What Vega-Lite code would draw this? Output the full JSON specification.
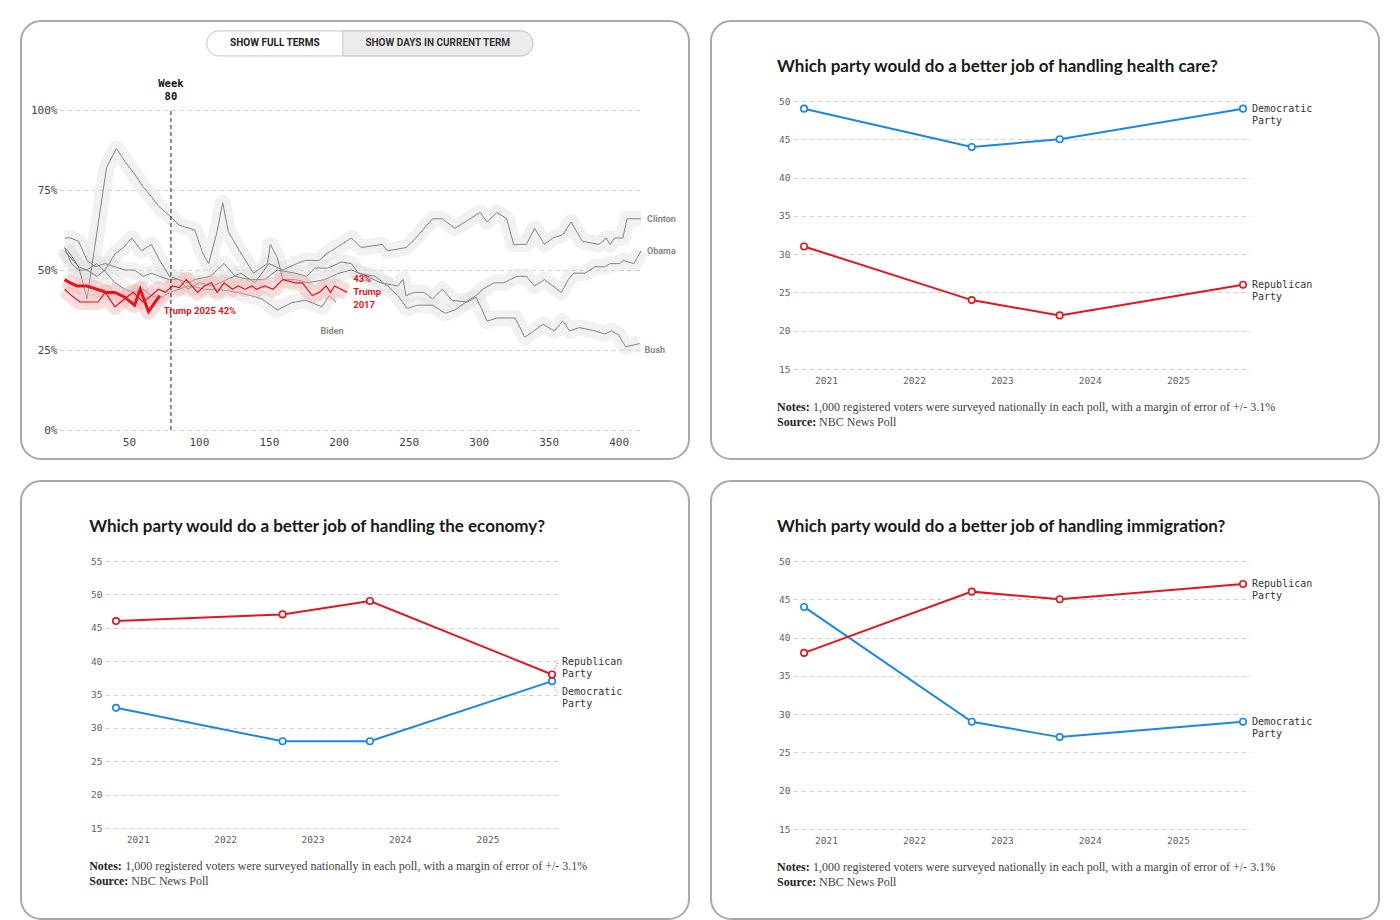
{
  "$schema": "https://vega.github.io/schema/vega-lite/v6.json",
  "background": "white",
  "padding": {"left": 20, "top": 20, "right": 0, "bottom": 0},
  "spacing": 20,
  "config": {
    "view": {"stroke": "#a8a8a8", "strokeWidth": 2, "cornerRadius": 20, "fill": "white"},
    "concat": {"spacing": 20},
    "axis": {"domain": false, "ticks": false, "tickSize": 0, "labelPadding": 0, "labelFont": "DejaVu Sans Mono", "labelColor": "#5e5e5e", "gridColor": "#cccccc", "gridDash": [4, 4], "gridWidth": 1}
  },
  "datasets": {
    "approval": [
      {"president":"Bush","week":4,"approval":57},{"president":"Bush","week":8,"approval":55},{"president":"Bush","week":14,"approval":51},{"president":"Bush","week":20,"approval":41},{"president":"Bush","week":34,"approval":82},{"president":"Bush","week":41,"approval":88},{"president":"Bush","week":47,"approval":84},{"president":"Bush","week":54,"approval":80},{"president":"Bush","week":60,"approval":76},{"president":"Bush","week":66,"approval":73},{"president":"Bush","week":71,"approval":70},{"president":"Bush","week":79,"approval":67},{"president":"Bush","week":86,"approval":64},{"president":"Bush","week":97,"approval":62.5},{"president":"Bush","week":103,"approval":55},{"president":"Bush","week":107,"approval":52},{"president":"Bush","week":113,"approval":62},{"president":"Bush","week":117,"approval":71},{"president":"Bush","week":121,"approval":62},{"president":"Bush","week":129,"approval":56},{"president":"Bush","week":139,"approval":49},{"president":"Bush","week":149,"approval":52},{"president":"Bush","week":151,"approval":58},{"president":"Bush","week":156,"approval":54},{"president":"Bush","week":160,"approval":47},{"president":"Bush","week":169,"approval":47},{"president":"Bush","week":178,"approval":46},{"president":"Bush","week":190,"approval":47},{"president":"Bush","week":200,"approval":49},{"president":"Bush","week":209,"approval":50},{"president":"Bush","week":220,"approval":48},{"president":"Bush","week":230,"approval":46},{"president":"Bush","week":242,"approval":45},{"president":"Bush","week":246,"approval":47},{"president":"Bush","week":248,"approval":42},{"president":"Bush","week":254,"approval":43},{"president":"Bush","week":261,"approval":43},{"president":"Bush","week":267,"approval":41},{"president":"Bush","week":274,"approval":44},{"president":"Bush","week":281,"approval":40.5},{"president":"Bush","week":292,"approval":40},{"president":"Bush","week":298,"approval":41.5},{"president":"Bush","week":302,"approval":38},{"president":"Bush","week":306,"approval":34},{"president":"Bush","week":313,"approval":35},{"president":"Bush","week":326,"approval":35},{"president":"Bush","week":333,"approval":29},{"president":"Bush","week":346,"approval":33},{"president":"Bush","week":354,"approval":31},{"president":"Bush","week":360,"approval":34},{"president":"Bush","week":365,"approval":31},{"president":"Bush","week":372,"approval":32},{"president":"Bush","week":383,"approval":31},{"president":"Bush","week":390,"approval":30},{"president":"Bush","week":395,"approval":31},{"president":"Bush","week":400,"approval":29.7},{"president":"Bush","week":405,"approval":26},{"president":"Bush","week":415,"approval":27},
      {"president":"Clinton","week":4,"approval":57},{"president":"Clinton","week":9,"approval":52},{"president":"Clinton","week":14,"approval":50},{"president":"Clinton","week":20,"approval":50},{"president":"Clinton","week":27,"approval":48},{"president":"Clinton","week":33,"approval":50},{"president":"Clinton","week":40,"approval":55},{"president":"Clinton","week":46,"approval":57},{"president":"Clinton","week":52,"approval":60},{"president":"Clinton","week":59,"approval":56},{"president":"Clinton","week":66,"approval":58},{"president":"Clinton","week":72,"approval":53},{"president":"Clinton","week":79,"approval":48},{"president":"Clinton","week":86,"approval":47},{"president":"Clinton","week":92,"approval":44},{"president":"Clinton","week":100,"approval":46},{"president":"Clinton","week":110,"approval":45},{"president":"Clinton","week":120,"approval":47},{"president":"Clinton","week":130,"approval":49},{"president":"Clinton","week":140,"approval":46},{"president":"Clinton","week":150,"approval":52},{"president":"Clinton","week":160,"approval":50},{"president":"Clinton","week":170,"approval":52},{"president":"Clinton","week":176,"approval":53},{"president":"Clinton","week":186,"approval":53},{"president":"Clinton","week":191,"approval":55},{"president":"Clinton","week":202,"approval":58},{"president":"Clinton","week":209,"approval":60},{"president":"Clinton","week":216,"approval":57},{"president":"Clinton","week":231,"approval":58},{"president":"Clinton","week":235,"approval":56},{"president":"Clinton","week":248,"approval":57},{"president":"Clinton","week":255,"approval":60},{"president":"Clinton","week":267,"approval":66},{"president":"Clinton","week":274,"approval":66},{"president":"Clinton","week":283,"approval":63},{"president":"Clinton","week":301,"approval":68},{"president":"Clinton","week":306,"approval":65},{"president":"Clinton","week":313,"approval":68},{"president":"Clinton","week":320,"approval":66},{"president":"Clinton","week":325,"approval":58},{"president":"Clinton","week":334,"approval":58},{"president":"Clinton","week":340,"approval":63},{"president":"Clinton","week":347,"approval":58},{"president":"Clinton","week":353,"approval":60},{"president":"Clinton","week":360,"approval":61},{"president":"Clinton","week":366,"approval":65},{"president":"Clinton","week":374,"approval":59},{"president":"Clinton","week":386,"approval":58},{"president":"Clinton","week":391,"approval":60},{"president":"Clinton","week":394,"approval":58},{"president":"Clinton","week":397,"approval":60},{"president":"Clinton","week":403,"approval":60},{"president":"Clinton","week":406,"approval":66},{"president":"Clinton","week":416,"approval":66},
      {"president":"Obama","week":4,"approval":60},{"president":"Obama","week":8,"approval":60},{"president":"Obama","week":14,"approval":59},{"president":"Obama","week":20,"approval":53},{"president":"Obama","week":26,"approval":51},{"president":"Obama","week":33,"approval":52},{"president":"Obama","week":40,"approval":51},{"president":"Obama","week":47,"approval":50},{"president":"Obama","week":54,"approval":50},{"president":"Obama","week":60,"approval":48},{"president":"Obama","week":66,"approval":49},{"president":"Obama","week":72,"approval":48},{"president":"Obama","week":79,"approval":47},{"president":"Obama","week":86,"approval":47},{"president":"Obama","week":92,"approval":46},{"president":"Obama","week":97,"approval":47},{"president":"Obama","week":108,"approval":48},{"president":"Obama","week":118,"approval":52},{"president":"Obama","week":126,"approval":48},{"president":"Obama","week":136,"approval":47},{"president":"Obama","week":147,"approval":47},{"president":"Obama","week":156,"approval":50},{"president":"Obama","week":169,"approval":49},{"president":"Obama","week":177,"approval":48},{"president":"Obama","week":183,"approval":50.6},{"president":"Obama","week":192,"approval":50.6},{"president":"Obama","week":202,"approval":52.5},{"president":"Obama","week":209,"approval":52},{"president":"Obama","week":214,"approval":49},{"president":"Obama","week":226,"approval":48},{"president":"Obama","week":235,"approval":45},{"president":"Obama","week":242,"approval":42},{"president":"Obama","week":249,"approval":38},{"president":"Obama","week":256,"approval":39},{"president":"Obama","week":267,"approval":39},{"president":"Obama","week":276,"approval":36.5},{"president":"Obama","week":283,"approval":37.5},{"president":"Obama","week":290,"approval":39.7},{"president":"Obama","week":298,"approval":42},{"president":"Obama","week":303,"approval":44},{"president":"Obama","week":311,"approval":46},{"president":"Obama","week":318,"approval":46},{"president":"Obama","week":327,"approval":48},{"president":"Obama","week":334,"approval":48},{"president":"Obama","week":340,"approval":45},{"president":"Obama","week":347,"approval":47},{"president":"Obama","week":359,"approval":43},{"president":"Obama","week":364,"approval":47},{"president":"Obama","week":368,"approval":49},{"president":"Obama","week":376,"approval":49},{"president":"Obama","week":383,"approval":51},{"president":"Obama","week":390,"approval":51},{"president":"Obama","week":394,"approval":52},{"president":"Obama","week":401,"approval":52},{"president":"Obama","week":403,"approval":53},{"president":"Obama","week":411,"approval":52},{"president":"Obama","week":416,"approval":56},
      {"president":"Biden","week":4,"approval":56},{"president":"Biden","week":8,"approval":54},{"president":"Biden","week":14,"approval":51},{"president":"Biden","week":20,"approval":50},{"president":"Biden","week":27,"approval":52},{"president":"Biden","week":34,"approval":49},{"president":"Biden","week":40,"approval":46},{"president":"Biden","week":47,"approval":44},{"president":"Biden","week":54,"approval":43},{"president":"Biden","week":60,"approval":44},{"president":"Biden","week":66,"approval":42},{"president":"Biden","week":72,"approval":41},{"president":"Biden","week":79,"approval":43},{"president":"Biden","week":86,"approval":44},{"president":"Biden","week":92,"approval":45},{"president":"Biden","week":97,"approval":44.7},{"president":"Biden","week":104,"approval":44},{"president":"Biden","week":116,"approval":43.8},{"president":"Biden","week":128,"approval":43},{"president":"Biden","week":137,"approval":42},{"president":"Biden","week":145,"approval":41},{"president":"Biden","week":156,"approval":37.5},{"president":"Biden","week":166,"approval":39.7},{"president":"Biden","week":176,"approval":40.6},{"president":"Biden","week":188,"approval":38.5},{"president":"Biden","week":193,"approval":42},{"president":"Biden","week":198,"approval":40},
      {"president":"Trump 2017","week":4,"approval":44},{"president":"Trump 2017","week":9,"approval":42},{"president":"Trump 2017","week":15,"approval":40},{"president":"Trump 2017","week":21,"approval":40},{"president":"Trump 2017","week":28,"approval":40},{"president":"Trump 2017","week":33,"approval":43},{"president":"Trump 2017","week":40,"approval":38.5},{"president":"Trump 2017","week":47,"approval":41},{"president":"Trump 2017","week":53,"approval":43},{"president":"Trump 2017","week":60,"approval":40},{"president":"Trump 2017","week":66,"approval":42},{"president":"Trump 2017","week":71,"approval":44},{"president":"Trump 2017","week":76,"approval":43},{"president":"Trump 2017","week":81,"approval":45},{"president":"Trump 2017","week":86,"approval":44.5},{"president":"Trump 2017","week":91,"approval":47},{"president":"Trump 2017","week":99,"approval":43},{"president":"Trump 2017","week":104,"approval":45},{"president":"Trump 2017","week":109,"approval":46},{"president":"Trump 2017","week":113,"approval":43},{"president":"Trump 2017","week":118,"approval":46},{"president":"Trump 2017","week":124,"approval":44},{"president":"Trump 2017","week":128,"approval":45},{"president":"Trump 2017","week":133,"approval":44},{"president":"Trump 2017","week":138,"approval":45},{"president":"Trump 2017","week":141,"approval":44},{"president":"Trump 2017","week":147,"approval":45},{"president":"Trump 2017","week":153,"approval":44},{"president":"Trump 2017","week":160,"approval":47},{"president":"Trump 2017","week":169,"approval":46},{"president":"Trump 2017","week":174,"approval":46},{"president":"Trump 2017","week":181,"approval":42},{"president":"Trump 2017","week":186,"approval":43},{"president":"Trump 2017","week":191,"approval":45},{"president":"Trump 2017","week":194,"approval":43},{"president":"Trump 2017","week":197,"approval":45},{"president":"Trump 2017","week":206,"approval":43},
      {"president":"Trump 2025","week":4,"approval":47},{"president":"Trump 2025","week":8,"approval":46},{"president":"Trump 2025","week":13,"approval":45},{"president":"Trump 2025","week":20,"approval":45},{"president":"Trump 2025","week":27,"approval":44},{"president":"Trump 2025","week":34,"approval":43},{"president":"Trump 2025","week":40,"approval":43},{"president":"Trump 2025","week":47,"approval":41.5},{"president":"Trump 2025","week":54,"approval":39},{"president":"Trump 2025","week":58,"approval":44},{"president":"Trump 2025","week":64,"approval":37},{"president":"Trump 2025","week":72,"approval":42}
    ],
    "approvalLabels": [
      {"president":"Clinton","week":416,"approval":66,"label":"Clinton"},
      {"president":"Obama","week":416,"approval":56,"label":"Obama"},
      {"president":"Bush","week":415,"approval":27,"label":"Bush"},
      {"president":"Biden","week":198,"approval":40,"label":"Biden"},
      {"president":"Trump 2017","week":206,"approval":43,"label":"43%\nTrump\n2017"},
      {"president":"Trump 2025","week":72,"approval":42,"label":"Trump 2025 42%"}
    ],
    "buttons": [
      {"button":"SHOW FULL TERMS"},
      {"button":"SHOW DAYS IN CURRENT TERM"}
    ],
    "marker": [{"week":80,"label":"Week\n80"}],
    "health": [
      {"party":"Democratic","date":"2020-10-02","pct":49},
      {"party":"Democratic","date":"2022-08-29","pct":44},
      {"party":"Democratic","date":"2023-08-29","pct":45},
      {"party":"Democratic","date":"2025-09-28","pct":49,"label":"Democratic\nParty"},
      {"party":"Republican","date":"2020-10-02","pct":31},
      {"party":"Republican","date":"2022-08-29","pct":24},
      {"party":"Republican","date":"2023-08-29","pct":22},
      {"party":"Republican","date":"2025-09-28","pct":26,"label":"Republican\nParty"}
    ],
    "economy": [
      {"party":"Democratic","date":"2020-10-02","pct":33},
      {"party":"Democratic","date":"2022-08-29","pct":28},
      {"party":"Democratic","date":"2023-08-29","pct":28},
      {"party":"Democratic","date":"2025-09-28","pct":37,"label":"Democratic\nParty"},
      {"party":"Republican","date":"2020-10-02","pct":46},
      {"party":"Republican","date":"2022-08-29","pct":47},
      {"party":"Republican","date":"2023-08-29","pct":49},
      {"party":"Republican","date":"2025-09-28","pct":38,"label":"Republican\nParty"}
    ],
    "immigration": [
      {"party":"Democratic","date":"2020-10-02","pct":44},
      {"party":"Democratic","date":"2022-08-29","pct":29},
      {"party":"Democratic","date":"2023-08-29","pct":27},
      {"party":"Democratic","date":"2025-09-28","pct":29,"label":"Democratic\nParty"},
      {"party":"Republican","date":"2020-10-02","pct":38},
      {"party":"Republican","date":"2022-08-29","pct":46},
      {"party":"Republican","date":"2023-08-29","pct":45},
      {"party":"Republican","date":"2025-09-28","pct":47,"label":"Republican\nParty"}
    ],
    "notes": [{"notes":"1,000 registered voters were surveyed nationally in each poll, with a margin of error of +/- 3.1%","source":"NBC News Poll"}]
  },
  "vconcat": [
    {
      "spacing": 20,
      "hconcat": [
        {
          "width": 668, "height": 438,
          "layer": [
            {
              "data": {"name": "buttons"},
              "transform": [{"filter": "datum.button == 'SHOW FULL TERMS'"}],
              "mark": {"type": "rect", "fill": "white", "stroke": "#c4c4c4", "strokeWidth": 1, "cornerRadius": 12},
              "encoding": {
                "x": {"datum": 105.7, "type": "quantitative", "scale": {"domain": [0, 416], "range": [38, 620], "nice": false, "zero": false}},
                "x2": {"datum": 338.6},
                "y": {"datum": 124.7, "type": "quantitative", "scale": {"domain": [0, 100], "range": [409, 89], "nice": false}},
                "y2": {"datum": 116.9}
              }
            },
            {
              "data": {"name": "buttons"},
              "transform": [{"filter": "datum.button == 'SHOW FULL TERMS'"}],
              "mark": {"type": "rect", "fill": "#ececec", "stroke": "#c4c4c4", "strokeWidth": 1, "cornerRadiusTopRight": 12, "cornerRadiusBottomRight": 12},
              "encoding": {
                "x": {"datum": 202.9, "type": "quantitative"},
                "x2": {"datum": 338.6},
                "y": {"datum": 124.7, "type": "quantitative"},
                "y2": {"datum": 116.9}
              }
            },
            {
              "data": {"name": "buttons"},
              "transform": [{"filter": "datum.button == 'SHOW FULL TERMS'"}],
              "mark": {"type": "text", "font": "Roboto", "fontWeight": "bold", "fontSize": 10, "color": "#222222", "align": "center", "baseline": "middle"},
              "encoding": {
                "x": {"datum": 154.3, "type": "quantitative"},
                "y": {"datum": 120.8, "type": "quantitative"},
                "text": {"field": "button"}
              }
            },
            {
              "data": {"name": "buttons"},
              "transform": [{"filter": "datum.button == 'SHOW DAYS IN CURRENT TERM'"}],
              "mark": {"type": "text", "font": "Roboto", "fontWeight": "bold", "fontSize": 10, "color": "#333333", "align": "center", "baseline": "middle"},
              "encoding": {
                "x": {"datum": 270.7, "type": "quantitative"},
                "y": {"datum": 120.8, "type": "quantitative"},
                "text": {"field": "button"}
              }
            },
            {
              "data": {"name": "approval"},
              "transform": [{"filter": "indexof(datum.president, 'Trump') < 0"}],
              "mark": {"type": "line", "strokeWidth": 16, "color": "#e0e0e0", "opacity": 0.45, "strokeJoin": "round"},
              "encoding": {
                "x": {"field": "week", "type": "quantitative", "title": null, "scale": {"domain": [0, 416], "range": [38, 620], "nice": false, "zero": false}, "axis": {"values": [50, 100, 150, 200, 250, 300, 350, 400], "offset": -23, "grid": false, "labelFontSize": 11, "labelColor": "#444444"}},
                "y": {"field": "approval", "type": "quantitative", "title": null, "scale": {"domain": [0, 100], "range": [409, 89], "nice": false}, "axis": {"values": [0, 25, 50, 75, 100], "offset": -36, "grid": true, "labelExpr": "datum.value + '%'", "labelFontSize": 11, "labelColor": "#444444"}},
                "detail": {"field": "president"}
              }
            },
            {
              "data": {"name": "approval"},
              "transform": [{"filter": "indexof(datum.president, 'Trump') < 0"}],
              "mark": {"type": "line", "strokeWidth": 1, "color": "#858585"},
              "encoding": {
                "x": {"field": "week", "type": "quantitative"},
                "y": {"field": "approval", "type": "quantitative"},
                "detail": {"field": "president"}
              }
            },
            {
              "data": {"name": "approval"},
              "transform": [{"filter": "indexof(datum.president, 'Trump') >= 0"}],
              "mark": {"type": "line", "strokeWidth": 16, "color": "#f2a6a6", "opacity": 0.38, "strokeJoin": "round"},
              "encoding": {
                "x": {"field": "week", "type": "quantitative"},
                "y": {"field": "approval", "type": "quantitative"},
                "detail": {"field": "president"}
              }
            },
            {
              "data": {"name": "approval"},
              "transform": [{"filter": "datum.president == 'Trump 2017'"}],
              "mark": {"type": "line", "strokeWidth": 1.2, "color": "#e3151c"},
              "encoding": {
                "x": {"field": "week", "type": "quantitative"},
                "y": {"field": "approval", "type": "quantitative"}
              }
            },
            {
              "data": {"name": "approval"},
              "transform": [{"filter": "datum.president == 'Trump 2025'"}],
              "mark": {"type": "line", "strokeWidth": 3, "color": "#e3151c"},
              "encoding": {
                "x": {"field": "week", "type": "quantitative"},
                "y": {"field": "approval", "type": "quantitative"}
              }
            },
            {
              "data": {"name": "marker"},
              "mark": {"type": "rule", "color": "#222222", "strokeWidth": 1, "strokeDash": [4, 3]},
              "encoding": {
                "x": {"field": "week", "type": "quantitative"},
                "y": {"datum": 0, "type": "quantitative"},
                "y2": {"datum": 100.6}
              }
            },
            {
              "data": {"name": "marker"},
              "mark": {"type": "text", "font": "DejaVu Sans Mono", "fontWeight": "bold", "fontSize": 10.5, "color": "#111111", "align": "center", "baseline": "middle", "lineBreak": "\n", "lineHeight": 13, "dy": -24},
              "encoding": {
                "x": {"field": "week", "type": "quantitative"},
                "y": {"datum": 100.6, "type": "quantitative"},
                "text": {"field": "label"}
              }
            },
            {
              "data": {"name": "approvalLabels"},
              "transform": [{"filter": "datum.president == 'Clinton' || datum.president == 'Obama'"}],
              "mark": {"type": "text", "font": "Roboto", "fontWeight": "bold", "fontSize": 9, "color": "#888888", "align": "left", "baseline": "middle", "dx": 6},
              "encoding": {
                "x": {"field": "week", "type": "quantitative"},
                "y": {"field": "approval", "type": "quantitative"},
                "text": {"field": "label"}
              }
            },
            {
              "data": {"name": "approvalLabels"},
              "transform": [{"filter": "datum.president == 'Bush'"}],
              "mark": {"type": "text", "font": "Roboto", "fontWeight": "bold", "fontSize": 9, "color": "#888888", "align": "left", "baseline": "middle", "dx": 5, "dy": 6},
              "encoding": {
                "x": {"field": "week", "type": "quantitative"},
                "y": {"field": "approval", "type": "quantitative"},
                "text": {"field": "label"}
              }
            },
            {
              "data": {"name": "approvalLabels"},
              "transform": [{"filter": "datum.president == 'Biden'"}],
              "mark": {"type": "text", "font": "Roboto", "fontWeight": "bold", "fontSize": 9, "color": "#888888", "align": "center", "baseline": "middle", "dx": -4, "dy": 29},
              "encoding": {
                "x": {"field": "week", "type": "quantitative"},
                "y": {"field": "approval", "type": "quantitative"},
                "text": {"field": "label"}
              }
            },
            {
              "data": {"name": "approvalLabels"},
              "transform": [{"filter": "datum.president == 'Trump 2017'"}],
              "mark": {"type": "text", "font": "Roboto", "fontWeight": "bold", "fontSize": 9.5, "color": "#e3151c", "align": "left", "baseline": "middle", "dx": 6, "dy": -13, "lineBreak": "\n", "lineHeight": 13},
              "encoding": {
                "x": {"field": "week", "type": "quantitative"},
                "y": {"field": "approval", "type": "quantitative"},
                "text": {"field": "label"}
              }
            },
            {
              "data": {"name": "approvalLabels"},
              "transform": [{"filter": "datum.president == 'Trump 2025'"}],
              "mark": {"type": "text", "font": "Roboto", "fontWeight": "bold", "fontSize": 9.5, "color": "#e3151c", "align": "left", "baseline": "middle", "dx": 4, "dy": 15},
              "encoding": {
                "x": {"field": "week", "type": "quantitative"},
                "y": {"field": "approval", "type": "quantitative"},
                "text": {"field": "label"}
              }
            }
          ]
        },
        {
          "width": 668, "height": 438,
          "layer": [
            {
              "data": {"name": "health"},
              "mark": {"type": "line", "strokeWidth": 2},
              "encoding": {
                "x": {"field": "date", "type": "temporal", "title": null, "scale": {"domain": [{"year": 2020, "month": 8, "date": 17}, {"year": 2025, "month": 10, "date": 27}], "range": [82, 539], "nice": false}, "axis": {"values": [{"year": 2021, "month": 1, "date": 1}, {"year": 2022, "month": 1, "date": 1}, {"year": 2023, "month": 1, "date": 1}, {"year": 2024, "month": 1, "date": 1}, {"year": 2025, "month": 1, "date": 1}], "format": "%Y", "offset": -84, "grid": false, "labelFontSize": 9.5}},
                "y": {"field": "pct", "type": "quantitative", "title": null, "scale": {"domain": [15, 50], "range": [348, 80], "nice": false, "zero": false}, "axis": {"values": [15, 20, 25, 30, 35, 40, 45, 50], "offset": -79, "grid": true, "labelFontSize": 9.5}},
                "color": {"field": "party", "type": "nominal", "scale": {"domain": ["Democratic", "Republican"], "range": ["#1a86e8", "#e3151c"]}, "legend": null}
              }
            },
            {
              "data": {"name": "health"},
              "mark": {"type": "point", "shape": "circle", "filled": false, "fill": "white", "fillOpacity": 1, "opacity": 1, "size": 42, "strokeWidth": 1.6},
              "encoding": {
                "x": {"field": "date", "type": "temporal"},
                "y": {"field": "pct", "type": "quantitative"},
                "color": {"field": "party", "type": "nominal", "legend": null}
              }
            },
            {
              "data": {"name": "health"},
              "transform": [{"filter": "isValid(datum.label)"}],
              "mark": {"type": "text", "align": "left", "baseline": "middle", "dx": 9, "dy": 0, "font": "DejaVu Sans Mono", "fontSize": 10, "lineBreak": "\n", "lineHeight": 12, "color": "#333333"},
              "encoding": {
                "x": {"field": "date", "type": "temporal"},
                "y": {"field": "pct", "type": "quantitative"},
                "text": {"field": "label"}
              }
            },
            {
              "data": {"name": "notes"},
              "mark": {"type": "text", "text": "Which party would do a better job of handling health care?", "align": "left", "baseline": "middle", "font": "Lato", "fontWeight": "bold", "fontSize": 17, "color": "#1a1a1a"},
              "encoding": {
                "x": {"datum": {"year": 2020, "month": 6, "date": 12}, "type": "temporal"},
                "y": {"datum": 54.44, "type": "quantitative"}
              }
            },
            {
              "data": {"name": "notes"},
              "mark": {"type": "text", "text": "Notes:", "align": "left", "baseline": "middle", "font": "Liberation Serif", "fontWeight": "bold", "fontSize": 12, "color": "#222222"},
              "encoding": {
                "x": {"datum": {"year": 2020, "month": 6, "date": 12}, "type": "temporal"},
                "y": {"datum": 10.04, "type": "quantitative"}
              }
            },
            {
              "data": {"name": "notes"},
              "mark": {"type": "text", "align": "left", "baseline": "middle", "font": "Liberation Serif", "fontSize": 12, "color": "#444444", "dx": 36},
              "encoding": {
                "x": {"datum": {"year": 2020, "month": 6, "date": 12}, "type": "temporal"},
                "y": {"datum": 10.04, "type": "quantitative"},
                "text": {"field": "notes"}
              }
            },
            {
              "data": {"name": "notes"},
              "mark": {"type": "text", "text": "Source:", "align": "left", "baseline": "middle", "font": "Liberation Serif", "fontWeight": "bold", "fontSize": 12, "color": "#222222"},
              "encoding": {
                "x": {"datum": {"year": 2020, "month": 6, "date": 12}, "type": "temporal"},
                "y": {"datum": 8.08, "type": "quantitative"}
              }
            },
            {
              "data": {"name": "notes"},
              "mark": {"type": "text", "align": "left", "baseline": "middle", "font": "Liberation Serif", "fontSize": 12, "color": "#444444", "dx": 42},
              "encoding": {
                "x": {"datum": {"year": 2020, "month": 6, "date": 12}, "type": "temporal"},
                "y": {"datum": 8.08, "type": "quantitative"},
                "text": {"field": "source"}
              }
            }
          ]
        }
      ]
    },
    {
      "spacing": 20,
      "hconcat": [
        {
          "width": 668, "height": 438,
          "layer": [
            {
              "data": {"name": "economy"},
              "mark": {"type": "line", "strokeWidth": 2},
              "encoding": {
                "x": {"field": "date", "type": "temporal", "title": null, "scale": {"domain": [{"year": 2020, "month": 8, "date": 17}, {"year": 2025, "month": 10, "date": 27}], "range": [84, 538], "nice": false}, "axis": {"values": [{"year": 2021, "month": 1, "date": 1}, {"year": 2022, "month": 1, "date": 1}, {"year": 2023, "month": 1, "date": 1}, {"year": 2024, "month": 1, "date": 1}, {"year": 2025, "month": 1, "date": 1}], "format": "%Y", "offset": -85, "grid": false, "labelFontSize": 9.5}},
                "y": {"field": "pct", "type": "quantitative", "title": null, "scale": {"domain": [15, 55], "range": [347, 80], "nice": false, "zero": false}, "axis": {"values": [15, 20, 25, 30, 35, 40, 45, 50, 55], "offset": -81, "grid": true, "labelFontSize": 9.5}},
                "color": {"field": "party", "type": "nominal", "scale": {"domain": ["Democratic", "Republican"], "range": ["#1a86e8", "#e3151c"]}, "legend": null}
              }
            },
            {
              "data": {"name": "economy"},
              "transform": [{"filter": "isValid(datum.label) && datum.party == 'Republican'"}],
              "mark": {"type": "rule", "strokeWidth": 1, "strokeDash": [1, 2]},
              "encoding": {
                "x": {"field": "date", "type": "temporal"},
                "y": {"field": "pct", "type": "quantitative"},
                "x2": {"datum": {"year": 2025, "month": 10, "date": 23}},
                "y2": {"datum": 39.8},
                "color": {"field": "party", "type": "nominal", "legend": null}
              }
            },
            {
              "data": {"name": "economy"},
              "transform": [{"filter": "isValid(datum.label) && datum.party == 'Democratic'"}],
              "mark": {"type": "rule", "strokeWidth": 1, "strokeDash": [1, 2]},
              "encoding": {
                "x": {"field": "date", "type": "temporal"},
                "y": {"field": "pct", "type": "quantitative"},
                "x2": {"datum": {"year": 2025, "month": 10, "date": 21}},
                "y2": {"datum": 35.1},
                "color": {"field": "party", "type": "nominal", "legend": null}
              }
            },
            {
              "data": {"name": "economy"},
              "mark": {"type": "point", "shape": "circle", "filled": false, "fill": "white", "fillOpacity": 1, "opacity": 1, "size": 42, "strokeWidth": 1.6},
              "encoding": {
                "x": {"field": "date", "type": "temporal"},
                "y": {"field": "pct", "type": "quantitative"},
                "color": {"field": "party", "type": "nominal", "legend": null}
              }
            },
            {
              "data": {"name": "economy"},
              "transform": [{"filter": "isValid(datum.label) && datum.party == 'Republican'"}],
              "mark": {"type": "text", "align": "left", "baseline": "middle", "dx": 10, "dy": -12, "font": "DejaVu Sans Mono", "fontSize": 10, "lineBreak": "\n", "lineHeight": 12, "color": "#333333"},
              "encoding": {
                "x": {"field": "date", "type": "temporal"},
                "y": {"field": "pct", "type": "quantitative"},
                "text": {"field": "label"}
              }
            },
            {
              "data": {"name": "economy"},
              "transform": [{"filter": "isValid(datum.label) && datum.party == 'Democratic'"}],
              "mark": {"type": "text", "align": "left", "baseline": "middle", "dx": 10, "dy": 11, "font": "DejaVu Sans Mono", "fontSize": 10, "lineBreak": "\n", "lineHeight": 12, "color": "#333333"},
              "encoding": {
                "x": {"field": "date", "type": "temporal"},
                "y": {"field": "pct", "type": "quantitative"},
                "text": {"field": "label"}
              }
            },
            {
              "data": {"name": "notes"},
              "mark": {"type": "text", "text": "Which party would do a better job of handling the economy?", "align": "left", "baseline": "middle", "font": "Lato", "fontWeight": "bold", "fontSize": 17, "color": "#1a1a1a"},
              "encoding": {
                "x": {"datum": {"year": 2020, "month": 6, "date": 12}, "type": "temporal"},
                "y": {"datum": 60.09, "type": "quantitative"}
              }
            },
            {
              "data": {"name": "notes"},
              "mark": {"type": "text", "text": "Notes:", "align": "left", "baseline": "middle", "font": "Liberation Serif", "fontWeight": "bold", "fontSize": 12, "color": "#222222"},
              "encoding": {
                "x": {"datum": {"year": 2020, "month": 6, "date": 12}, "type": "temporal"},
                "y": {"datum": 9.31, "type": "quantitative"}
              }
            },
            {
              "data": {"name": "notes"},
              "mark": {"type": "text", "align": "left", "baseline": "middle", "font": "Liberation Serif", "fontSize": 12, "color": "#444444", "dx": 36},
              "encoding": {
                "x": {"datum": {"year": 2020, "month": 6, "date": 12}, "type": "temporal"},
                "y": {"datum": 9.31, "type": "quantitative"},
                "text": {"field": "notes"}
              }
            },
            {
              "data": {"name": "notes"},
              "mark": {"type": "text", "text": "Source:", "align": "left", "baseline": "middle", "font": "Liberation Serif", "fontWeight": "bold", "fontSize": 12, "color": "#222222"},
              "encoding": {
                "x": {"datum": {"year": 2020, "month": 6, "date": 12}, "type": "temporal"},
                "y": {"datum": 7.06, "type": "quantitative"}
              }
            },
            {
              "data": {"name": "notes"},
              "mark": {"type": "text", "align": "left", "baseline": "middle", "font": "Liberation Serif", "fontSize": 12, "color": "#444444", "dx": 42},
              "encoding": {
                "x": {"datum": {"year": 2020, "month": 6, "date": 12}, "type": "temporal"},
                "y": {"datum": 7.06, "type": "quantitative"},
                "text": {"field": "source"}
              }
            }
          ]
        },
        {
          "width": 668, "height": 438,
          "layer": [
            {
              "data": {"name": "immigration"},
              "mark": {"type": "line", "strokeWidth": 2},
              "encoding": {
                "x": {"field": "date", "type": "temporal", "title": null, "scale": {"domain": [{"year": 2020, "month": 8, "date": 17}, {"year": 2025, "month": 10, "date": 27}], "range": [82, 539], "nice": false}, "axis": {"values": [{"year": 2021, "month": 1, "date": 1}, {"year": 2022, "month": 1, "date": 1}, {"year": 2023, "month": 1, "date": 1}, {"year": 2024, "month": 1, "date": 1}, {"year": 2025, "month": 1, "date": 1}], "format": "%Y", "offset": -84, "grid": false, "labelFontSize": 9.5}},
                "y": {"field": "pct", "type": "quantitative", "title": null, "scale": {"domain": [15, 50], "range": [348, 80], "nice": false, "zero": false}, "axis": {"values": [15, 20, 25, 30, 35, 40, 45, 50], "offset": -79, "grid": true, "labelFontSize": 9.5}},
                "color": {"field": "party", "type": "nominal", "scale": {"domain": ["Democratic", "Republican"], "range": ["#1a86e8", "#e3151c"]}, "legend": null}
              }
            },
            {
              "data": {"name": "immigration"},
              "mark": {"type": "point", "shape": "circle", "filled": false, "fill": "white", "fillOpacity": 1, "opacity": 1, "size": 42, "strokeWidth": 1.6},
              "encoding": {
                "x": {"field": "date", "type": "temporal"},
                "y": {"field": "pct", "type": "quantitative"},
                "color": {"field": "party", "type": "nominal", "legend": null}
              }
            },
            {
              "data": {"name": "immigration"},
              "transform": [{"filter": "isValid(datum.label)"}],
              "mark": {"type": "text", "align": "left", "baseline": "middle", "dx": 9, "dy": 0, "font": "DejaVu Sans Mono", "fontSize": 10, "lineBreak": "\n", "lineHeight": 12, "color": "#333333"},
              "encoding": {
                "x": {"field": "date", "type": "temporal"},
                "y": {"field": "pct", "type": "quantitative"},
                "text": {"field": "label"}
              }
            },
            {
              "data": {"name": "notes"},
              "mark": {"type": "text", "text": "Which party would do a better job of handling immigration?", "align": "left", "baseline": "middle", "font": "Lato", "fontWeight": "bold", "fontSize": 17, "color": "#1a1a1a"},
              "encoding": {
                "x": {"datum": {"year": 2020, "month": 6, "date": 12}, "type": "temporal"},
                "y": {"datum": 54.44, "type": "quantitative"}
              }
            },
            {
              "data": {"name": "notes"},
              "mark": {"type": "text", "text": "Notes:", "align": "left", "baseline": "middle", "font": "Liberation Serif", "fontWeight": "bold", "fontSize": 12, "color": "#222222"},
              "encoding": {
                "x": {"datum": {"year": 2020, "month": 6, "date": 12}, "type": "temporal"},
                "y": {"datum": 10.04, "type": "quantitative"}
              }
            },
            {
              "data": {"name": "notes"},
              "mark": {"type": "text", "align": "left", "baseline": "middle", "font": "Liberation Serif", "fontSize": 12, "color": "#444444", "dx": 36},
              "encoding": {
                "x": {"datum": {"year": 2020, "month": 6, "date": 12}, "type": "temporal"},
                "y": {"datum": 10.04, "type": "quantitative"},
                "text": {"field": "notes"}
              }
            },
            {
              "data": {"name": "notes"},
              "mark": {"type": "text", "text": "Source:", "align": "left", "baseline": "middle", "font": "Liberation Serif", "fontWeight": "bold", "fontSize": 12, "color": "#222222"},
              "encoding": {
                "x": {"datum": {"year": 2020, "month": 6, "date": 12}, "type": "temporal"},
                "y": {"datum": 8.08, "type": "quantitative"}
              }
            },
            {
              "data": {"name": "notes"},
              "mark": {"type": "text", "align": "left", "baseline": "middle", "font": "Liberation Serif", "fontSize": 12, "color": "#444444", "dx": 42},
              "encoding": {
                "x": {"datum": {"year": 2020, "month": 6, "date": 12}, "type": "temporal"},
                "y": {"datum": 8.08, "type": "quantitative"},
                "text": {"field": "source"}
              }
            }
          ]
        }
      ]
    }
  ]
}
